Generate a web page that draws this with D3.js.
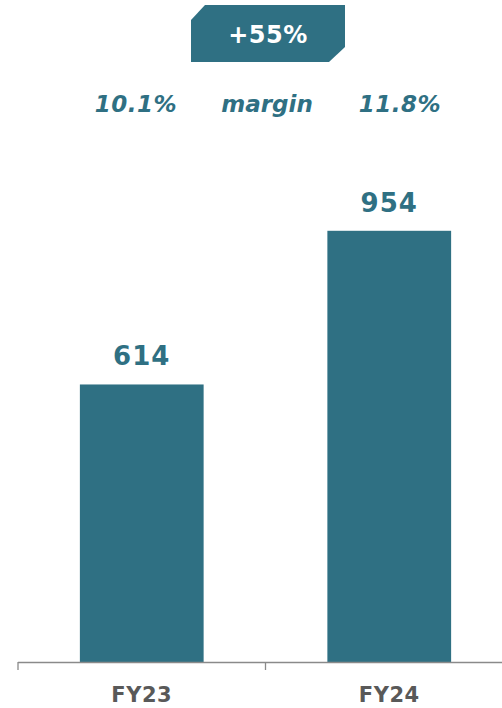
<!DOCTYPE html>
<html>
<head>
<meta charset="utf-8">
<script src="https://cdn.jsdelivr.net/npm/d3@7"></script>
<style>
  body { margin: 0; background: #fff; }
  svg { display: block; font-family: "DejaVu Sans", sans-serif; }
</style>
</head>
<body>
<div id="chart"></div>
<script>
const years = ["FY23", "FY24"];
const values = [614, 954];
const margins = ["10.1%", "11.8%"];
const growthLabel = "+55%";
const marginLabel = "margin";

const width = 502, height = 708;
const teal = "#2f7083";

const svg = d3.select("#chart").append("svg")
    .attr("width", width)
    .attr("height", height);

const x = d3.scaleBand()
    .domain(years)
    .range([18, 513])
    .paddingInner(0.5)
    .paddingOuter(0.25);

const y = d3.scaleLinear()
    .domain([0, 1000])
    .range([662, 210]);

// bars
svg.append("g")
    .selectAll("rect")
    .data(values)
    .join("rect")
    .attr("x", (d, i) => x(years[i]))
    .attr("y", d => y(d))
    .attr("width", x.bandwidth())
    .attr("height", d => y(0) - y(d))
    .attr("fill", teal);

// value labels
svg.append("g")
    .selectAll("text")
    .data(values)
    .join("text")
    .attr("x", (d, i) => x(years[i]) + x.bandwidth() / 2)
    .attr("y", d => y(d) - 19)
    .attr("text-anchor", "middle")
    .attr("font-size", 26)
    .attr("font-weight", "bold")
    .attr("letter-spacing", 1)
    .attr("fill", teal)
    .text(d => d);

// axis: baseline with ticks at band edges
const axis = svg.append("g").attr("stroke", "#8a8a8a").attr("stroke-width", 1.3);
axis.append("line")
    .attr("x1", 18).attr("x2", width)
    .attr("y1", y(0) + 0.5).attr("y2", y(0) + 0.5);
axis.selectAll("line.tick")
    .data([18, x.step() + 18])
    .join("line")
    .attr("class", "tick")
    .attr("x1", d => d).attr("x2", d => d)
    .attr("y1", y(0)).attr("y2", y(0) + 8);

svg.append("g")
    .selectAll("text")
    .data(years)
    .join("text")
    .attr("x", d => x(d) + x.bandwidth() / 2)
    .attr("y", 702)
    .attr("text-anchor", "middle")
    .attr("font-size", 21)
    .attr("font-weight", "bold")
    .attr("letter-spacing", 0.5)
    .attr("fill", "#595959")
    .text(d => d);

// margin row
const marginRow = svg.append("g")
    .attr("font-size", 23)
    .attr("font-weight", "bold")
    .attr("font-style", "italic")
    .attr("fill", teal)
    .attr("text-anchor", "middle");
marginRow.selectAll("text.m")
    .data(margins)
    .join("text")
    .attr("class", "m")
    .attr("x", (d, i) => i === 0 ? 136 : 400)
    .attr("y", 112)
    .attr("letter-spacing", 0.5)
    .text(d => d);
marginRow.append("text")
    .attr("x", 267)
    .attr("y", 112)
    .text(marginLabel);

// growth badge
const bx0 = 191, bx1 = 345, by0 = 5, by1 = 62;
svg.append("path")
    .attr("d", `M${bx0},${by0 + 15} L${bx0 + 14},${by0} L${bx1},${by0} L${bx1},${by1 - 15} L${bx1 - 16},${by1} L${bx0},${by1} Z`)
    .attr("fill", teal);
svg.append("text")
    .attr("x", (bx0 + bx1) / 2)
    .attr("y", 43)
    .attr("text-anchor", "middle")
    .attr("font-size", 24)
    .attr("font-weight", "bold")
    .attr("letter-spacing", 0.5)
    .attr("fill", "#fff")
    .text(growthLabel);
</script>
</body>
</html>
